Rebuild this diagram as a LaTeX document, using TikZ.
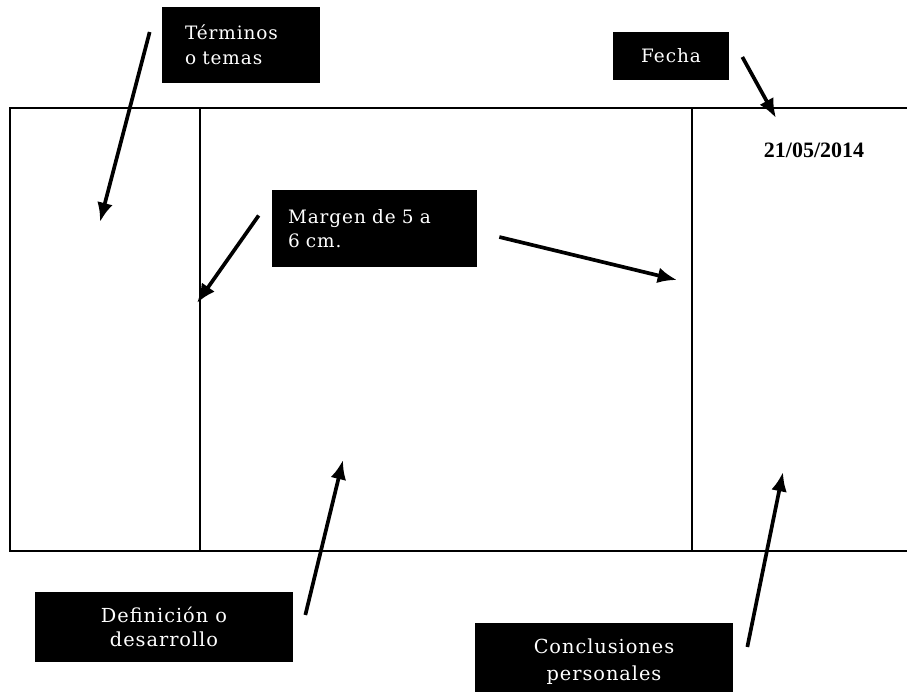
\documentclass[tikz,border=0pt]{standalone}
\usepackage{fontspec}
\setmainfont{Liberation Serif}
\newfontfamily\boxfont[LetterSpace=5]{DejaVu Serif}
\usetikzlibrary{arrows.meta}

\begin{document}
\begin{tikzpicture}[x=0.02cm, y=-0.02cm, >=Latex]

	% Styles
	\tikzstyle{label} = [rectangle, fill=black, text=white, font=\boxfont\fontsize{10.5}{14}\selectfont, inner sep=0pt]
	\tikzstyle{arrow} = [->, line width=2.1pt, >={Latex[length=11pt,width=9pt]}]
	\tikzstyle{frame} = [line width=0.7pt]

	\useasboundingbox (0,0) rectangle (907,691);

	% Sheet
	\draw[frame] (907,108) -- (10,108) -- (10,551) -- (907,551);
	\draw[frame] (200,108) -- (200,551);
	\draw[frame] (692,108) -- (692,551);

	% Nodes
	\node[label, minimum width=3.16cm, minimum height=1.52cm, text width=2.24cm, align=left] (terminos) at (241,45) {Términos\\o temas};
	\node[label, minimum width=2.32cm, minimum height=0.96cm, align=center] (fecha) at (671,56) {Fecha};
	\node[label, minimum width=4.1cm, minimum height=1.54cm, text width=3.46cm, align=left] (margen) at (374.5,228.5) {Margen de 5 a\\6 cm.};
	\node[label, minimum width=5.16cm, minimum height=1.4cm, align=center, font=\boxfont\fontsize{11}{14}\selectfont] (definicion) at (164,627) {Definición o\\desarrollo};
	\node[label, minimum width=5.16cm, minimum height=1.56cm, align=center, font=\boxfont\fontsize{11}{15.5}\selectfont] (conclusiones) at (604,662) {Conclusiones\\personales};
	\node[font=\bfseries\fontsize{12.5}{14}\selectfont] (fechadato) at (814,150) {21/05/2014};

	% Arrow tips
	\coordinate (terminostip) at (100,222);
	\coordinate (fechatip) at (776,118);
	\coordinate (margenizq) at (197,303);
	\coordinate (margender) at (677,280);
	\coordinate (definiciontip) at (343,460);
	\coordinate (conclusionestip) at (783,472);

	% Arrows
	\draw[arrow] ([shift={(-12,-13)}]terminos.west) -- (terminostip);
	\draw[arrow] ([shift={(13,1)}]fecha.east) -- (fechatip);
	\draw[arrow] ([shift={(-13,-13)}]margen.west) -- (margenizq);
	\draw[arrow] ([shift={(22,8.5)}]margen.east) -- (margender);
	\draw[arrow] ([shift={(12,-12)}]definicion.east) -- (definiciontip);
	\draw[arrow] ([shift={(14,-15)}]conclusiones.east) -- (conclusionestip);

\end{tikzpicture}
\end{document}
